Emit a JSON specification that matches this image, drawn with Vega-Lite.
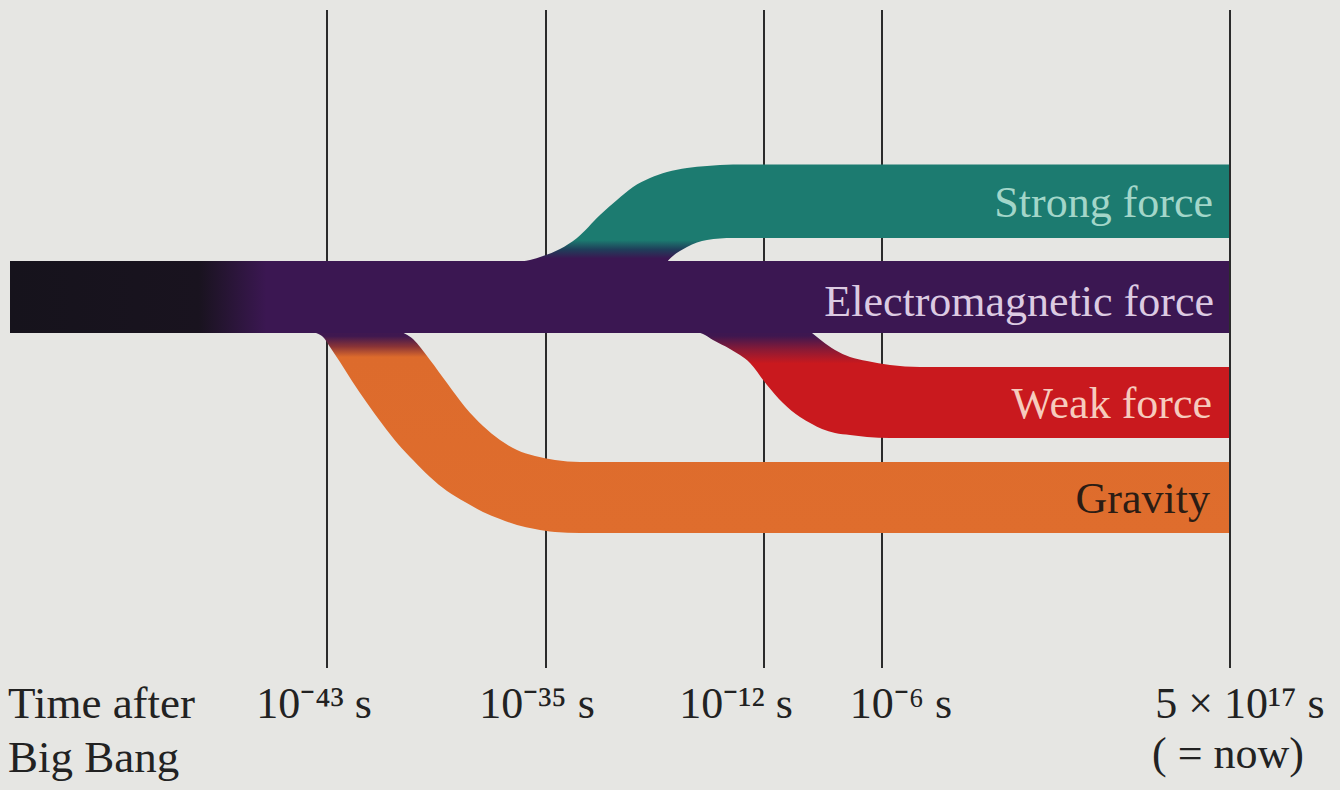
{
  "$schema": "https://vega.github.io/schema/vega-lite/v6.json",
  "width": 1340,
  "height": 790,
  "autosize": {"type": "fit", "contains": "padding"},
  "padding": 0,
  "background": "#e6e6e3",
  "config": {"view": {"stroke": null}},
  "datasets": {
    "lines": [
      {"time": "1e-43 s", "x": 327},
      {"time": "1e-35 s", "x": 546},
      {"time": "1e-12 s", "x": 764},
      {"time": "1e-6 s", "x": 882},
      {"time": "5e17 s", "x": 1230}
    ],
    "bands": [
      {"band": "gravity", "x": 300, "top": 300, "bottom": 330},
      {"band": "gravity", "x": 316, "top": 300, "bottom": 333},
      {"band": "gravity", "x": 324, "top": 300, "bottom": 338},
      {"band": "gravity", "x": 330, "top": 300, "bottom": 347},
      {"band": "gravity", "x": 340, "top": 300, "bottom": 362},
      {"band": "gravity", "x": 352, "top": 300, "bottom": 381},
      {"band": "gravity", "x": 367, "top": 300, "bottom": 403},
      {"band": "gravity", "x": 383, "top": 310, "bottom": 425},
      {"band": "gravity", "x": 398, "top": 329, "bottom": 444},
      {"band": "gravity", "x": 413, "top": 339, "bottom": 460},
      {"band": "gravity", "x": 430, "top": 360, "bottom": 477},
      {"band": "gravity", "x": 447, "top": 383, "bottom": 491},
      {"band": "gravity", "x": 465, "top": 407, "bottom": 502},
      {"band": "gravity", "x": 483, "top": 426, "bottom": 512},
      {"band": "gravity", "x": 500, "top": 440, "bottom": 519},
      {"band": "gravity", "x": 517, "top": 450, "bottom": 525},
      {"band": "gravity", "x": 535, "top": 456, "bottom": 529},
      {"band": "gravity", "x": 555, "top": 460, "bottom": 532},
      {"band": "gravity", "x": 580, "top": 462, "bottom": 533},
      {"band": "gravity", "x": 1230, "top": 462, "bottom": 533},
      {"band": "weak", "x": 690, "top": 300, "bottom": 330},
      {"band": "weak", "x": 703, "top": 300, "bottom": 334},
      {"band": "weak", "x": 713, "top": 300, "bottom": 340},
      {"band": "weak", "x": 730, "top": 300, "bottom": 349},
      {"band": "weak", "x": 750, "top": 300, "bottom": 363},
      {"band": "weak", "x": 767, "top": 300, "bottom": 385},
      {"band": "weak", "x": 783, "top": 305, "bottom": 403},
      {"band": "weak", "x": 800, "top": 322, "bottom": 417},
      {"band": "weak", "x": 812, "top": 333, "bottom": 424},
      {"band": "weak", "x": 822, "top": 341, "bottom": 429},
      {"band": "weak", "x": 835, "top": 350, "bottom": 433},
      {"band": "weak", "x": 850, "top": 357, "bottom": 435},
      {"band": "weak", "x": 867, "top": 361, "bottom": 437},
      {"band": "weak", "x": 890, "top": 365, "bottom": 438},
      {"band": "weak", "x": 920, "top": 367, "bottom": 438},
      {"band": "weak", "x": 1230, "top": 367, "bottom": 438},
      {"band": "strong", "x": 515, "top": 262, "bottom": 295},
      {"band": "strong", "x": 530, "top": 260, "bottom": 295},
      {"band": "strong", "x": 543, "top": 256, "bottom": 295},
      {"band": "strong", "x": 560, "top": 249, "bottom": 295},
      {"band": "strong", "x": 577, "top": 238, "bottom": 295},
      {"band": "strong", "x": 600, "top": 215, "bottom": 295},
      {"band": "strong", "x": 617, "top": 200, "bottom": 295},
      {"band": "strong", "x": 633, "top": 187, "bottom": 295},
      {"band": "strong", "x": 650, "top": 178, "bottom": 290},
      {"band": "strong", "x": 667, "top": 172, "bottom": 262},
      {"band": "strong", "x": 687, "top": 168, "bottom": 247},
      {"band": "strong", "x": 707, "top": 166, "bottom": 240},
      {"band": "strong", "x": 733, "top": 164.5, "bottom": 238},
      {"band": "strong", "x": 770, "top": 164.5, "bottom": 238},
      {"band": "strong", "x": 1230, "top": 164.5, "bottom": 238}
    ],
    "em": [
      {"band": "em", "x": 10, "x2": 1230, "top": 261, "bottom": 333}
    ],
    "bandlabels": [
      {"band": "strong", "label": "Strong force", "x": 1213, "y": 217},
      {"band": "em", "label": "Electromagnetic force", "x": 1214, "y": 316},
      {"band": "weak", "label": "Weak force", "x": 1212, "y": 418},
      {"band": "gravity", "label": "Gravity", "x": 1210, "y": 513}
    ],
    "leftlabels": [
      {"label": "Time after", "x": 8, "y": 718},
      {"label": "Big Bang", "x": 8, "y": 772}
    ],
    "ticklabels": [
      {"label": "10⁻⁴³ s", "x": 314, "y": 718},
      {"label": "10⁻³⁵ s", "x": 537, "y": 718},
      {"label": "10⁻¹² s", "x": 736, "y": 718},
      {"label": "10⁻⁶ s", "x": 901, "y": 718},
      {"label": "5 × 10¹⁷ s", "x": 1240, "y": 718},
      {"label": "( = now)", "x": 1228, "y": 768}
    ]
  },
  "layer": [
    {
      "data": {"name": "lines"},
      "transform": [{"filter": "datum.x < 1200"}],
      "mark": {"type": "rule", "color": "#2b2b2b", "strokeWidth": 2},
      "encoding": {
        "x": {"field": "x", "type": "quantitative", "scale": {"domain": [0, 1340], "nice": false, "zero": false}, "axis": null},
        "y": {"datum": 10, "type": "quantitative", "scale": {"domain": [0, 790], "nice": false, "zero": false, "reverse": true}, "axis": null},
        "y2": {"datum": 668}
      }
    },
    {
      "data": {"name": "bands"},
      "transform": [{"filter": "datum.band === 'gravity'"}],
      "mark": {
        "type": "area",
        "interpolate": "monotone",
        "color": {"gradient": "linear", "x1": 0, "y1": 0, "x2": 0, "y2": 1,
          "stops": [
            {"offset": 0, "color": "#3b1752"},
            {"offset": 0.155, "color": "#3f1850"},
            {"offset": 0.2, "color": "#8a3436"},
            {"offset": 0.245, "color": "#dd6b2c"},
            {"offset": 1, "color": "#df6d2d"}
          ]}
      },
      "encoding": {
        "x": {"field": "x", "type": "quantitative"},
        "y": {"field": "top", "type": "quantitative"},
        "y2": {"field": "bottom"}
      }
    },
    {
      "data": {"name": "bands"},
      "transform": [{"filter": "datum.band === 'weak'"}],
      "mark": {
        "type": "area",
        "interpolate": "monotone",
        "color": {"gradient": "linear", "x1": 0, "y1": 0, "x2": 0, "y2": 1,
          "stops": [
            {"offset": 0, "color": "#3b1752"},
            {"offset": 0.26, "color": "#3e1750"},
            {"offset": 0.36, "color": "#8a1a35"},
            {"offset": 0.46, "color": "#c9191e"},
            {"offset": 1, "color": "#c9191e"}
          ]}
      },
      "encoding": {
        "x": {"field": "x", "type": "quantitative"},
        "y": {"field": "top", "type": "quantitative"},
        "y2": {"field": "bottom"}
      }
    },
    {
      "data": {"name": "bands"},
      "transform": [{"filter": "datum.band === 'strong'"}],
      "mark": {
        "type": "area",
        "interpolate": "monotone",
        "color": {"gradient": "linear", "x1": 0, "y1": 0, "x2": 0, "y2": 1,
          "stops": [
            {"offset": 0, "color": "#1c7b70"},
            {"offset": 0.58, "color": "#1c7b70"},
            {"offset": 0.65, "color": "#1f3f5a"},
            {"offset": 0.72, "color": "#3b1752"},
            {"offset": 1, "color": "#3b1752"}
          ]}
      },
      "encoding": {
        "x": {"field": "x", "type": "quantitative"},
        "y": {"field": "top", "type": "quantitative"},
        "y2": {"field": "bottom"}
      }
    },
    {
      "data": {"name": "em"},
      "mark": {
        "type": "rect",
        "color": {"gradient": "linear", "x1": 0, "y1": 0, "x2": 1, "y2": 0,
          "stops": [
            {"offset": 0, "color": "#16131c"},
            {"offset": 0.155, "color": "#19131f"},
            {"offset": 0.21, "color": "#3b1752"},
            {"offset": 1, "color": "#3b1752"}
          ]}
      },
      "encoding": {
        "x": {"field": "x", "type": "quantitative"},
        "x2": {"field": "x2"},
        "y": {"field": "top", "type": "quantitative"},
        "y2": {"field": "bottom"}
      }
    },
    {
      "data": {"name": "lines"},
      "transform": [{"filter": "datum.x >= 1200"}],
      "mark": {"type": "rule", "color": "#2b2b2b", "strokeWidth": 2},
      "encoding": {
        "x": {"field": "x", "type": "quantitative"},
        "y": {"datum": 10, "type": "quantitative"},
        "y2": {"datum": 668}
      }
    },
    {
      "data": {"name": "bandlabels"},
      "mark": {"type": "text", "align": "right", "baseline": "alphabetic", "font": "Liberation Serif", "fontSize": 44},
      "encoding": {
        "x": {"field": "x", "type": "quantitative"},
        "y": {"field": "y", "type": "quantitative"},
        "text": {"field": "label"},
        "color": {"field": "band", "type": "nominal", "legend": null,
          "scale": {"domain": ["strong", "em", "weak", "gravity"], "range": ["#a3d6c9", "#dccbe2", "#f6cbbd", "#2b1c14"]}}
      }
    },
    {
      "data": {"name": "leftlabels"},
      "mark": {"type": "text", "align": "left", "baseline": "alphabetic", "font": "Liberation Serif", "fontSize": 45, "color": "#222222"},
      "encoding": {
        "x": {"field": "x", "type": "quantitative"},
        "y": {"field": "y", "type": "quantitative"},
        "text": {"field": "label"}
      }
    },
    {
      "data": {"name": "ticklabels"},
      "mark": {"type": "text", "align": "center", "baseline": "alphabetic", "font": "Liberation Serif", "fontSize": 44, "color": "#222222"},
      "encoding": {
        "x": {"field": "x", "type": "quantitative"},
        "y": {"field": "y", "type": "quantitative"},
        "text": {"field": "label"}
      }
    }
  ]
}
